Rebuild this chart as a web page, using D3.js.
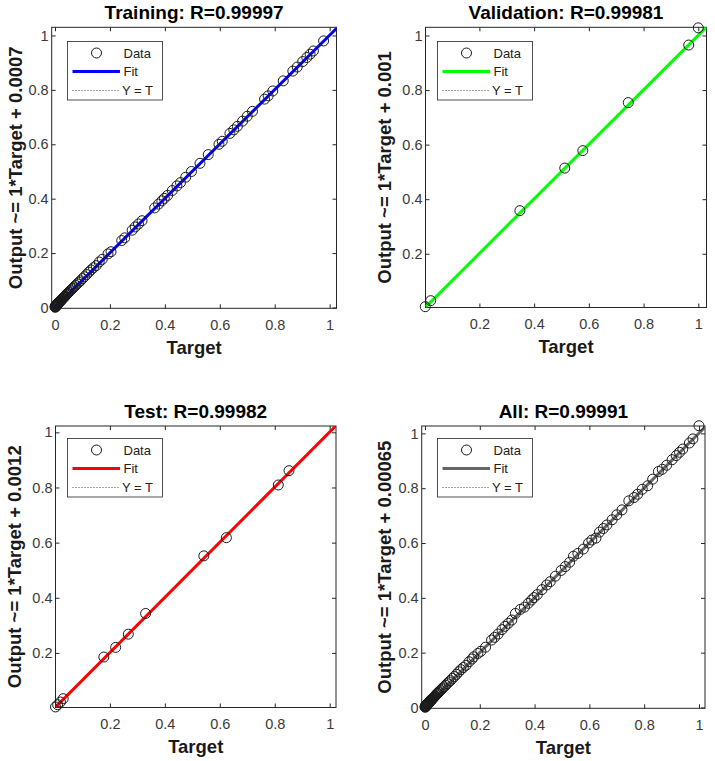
<!DOCTYPE html>
<html><head><meta charset="utf-8">
<script src="https://cdn.jsdelivr.net/npm/d3@7"></script>
<style>
html,body{margin:0;padding:0;background:#fff;}
svg{display:block;font-family:"Liberation Sans",Arial,Helvetica,sans-serif;}
</style></head><body>
<svg id="chart" width="715" height="761"></svg>
<script>
// ---------------- DATA ----------------
const trainTarget = [0.000,0.001,0.001,0.002,0.003,0.003,0.004,0.005,0.006,0.007,0.008,0.009,0.010,0.011,0.012,0.013,0.014,0.015,0.016,0.018,0.019,0.020,0.022,0.023,0.024,0.026,0.027,0.029,0.031,0.033,0.034,0.036,0.037,0.040,0.043,0.045,0.046,0.049,0.052,0.056,0.060,0.065,0.070,0.075,0.081,0.087,0.093,0.100,0.107,0.115,0.123,0.131,0.140,0.150,0.161,0.172,0.193,0.204,0.243,0.254,0.281,0.292,0.304,0.317,0.363,0.377,0.389,0.398,0.410,0.427,0.444,0.457,0.476,0.497,0.528,0.558,0.597,0.609,0.637,0.651,0.664,0.683,0.700,0.719,0.763,0.776,0.793,0.831,0.866,0.882,0.902,0.917,0.929,0.941,0.978];
const trainOutput = [0.002,0.004,0.001,0.005,0.003,0.007,0.007,0.008,0.006,0.010,0.012,0.011,0.014,0.013,0.016,0.018,0.017,0.019,0.020,0.021,0.024,0.024,0.025,0.028,0.029,0.030,0.032,0.034,0.036,0.038,0.039,0.041,0.042,0.046,0.049,0.051,0.052,0.055,0.058,0.062,0.066,0.071,0.076,0.081,0.087,0.093,0.098,0.106,0.113,0.121,0.130,0.138,0.146,0.154,0.167,0.177,0.197,0.205,0.246,0.256,0.284,0.296,0.307,0.319,0.366,0.380,0.392,0.401,0.412,0.430,0.447,0.459,0.479,0.500,0.530,0.562,0.600,0.611,0.640,0.653,0.666,0.685,0.703,0.721,0.766,0.778,0.796,0.833,0.869,0.884,0.904,0.919,0.931,0.943,0.980];
const valTarget = [0.002,0.022,0.348,0.512,0.578,0.744,0.965,1.000];
const valOutput = [0.006,0.028,0.358,0.514,0.578,0.754,0.965,1.028];
const testTarget = [0.002,0.010,0.020,0.030,0.178,0.221,0.267,0.330,0.542,0.624,0.813,0.852];
const testOutput = [0.004,0.012,0.022,0.034,0.185,0.220,0.268,0.343,0.552,0.618,0.809,0.861];

const panelNames = ["Training","Validation","Test","All"];
const rValues = ["0.99997","0.99981","0.99982","0.99991"];
const fitSlopes = [1,1,1,1];
const fitIntercepts = [0.0007,0.001,0.0012,0.00065];
const interceptLabels = ["0.0007","0.001","0.0012","0.00065"];
const tickValues = [0,0.2,0.4,0.6,0.8,1];
const legendLabels = ["Data","Fit","Y = T"];
const fitColors = ["#0000ff","#00ff00","#ff0000","#666666"];

// ---------------- LAYOUT ----------------
const layouts = [
  {left:51.7,right:336.5,top:27.3,bottom:308.3,xdom:[-0.012,1.025],ydom:[-0.003,1.03],legX:67.5,legY:41.5,ylabX:16},
  {left:425.5,right:706.5,top:27.3,bottom:307.5,xdom:[0.003,1.03],ydom:[0.003,1.03],legX:437.5,legY:41.5,ylabX:385},
  {left:55.5,right:336,top:426,bottom:707.5,xdom:[0.002,1.023],ydom:[0.002,1.023],legX:67.5,legY:438.5,ylabX:15},
  {left:421.7,right:705,top:426,bottom:708.3,xdom:[-0.012,1.022],ydom:[-0.003,1.027],legX:437.5,legY:438.5,ylabX:385}
];

const datasets = [
  {t:trainTarget, y:trainOutput},
  {t:valTarget, y:valOutput},
  {t:testTarget, y:testOutput},
  {t:trainTarget.concat(valTarget, testTarget), y:trainOutput.concat(valOutput, testOutput)}
];

const svg = d3.select("#chart");
svg.append("rect").attr("width",715).attr("height",761).attr("fill","#fff");
const defs = svg.append("defs");

const axisColor = "#262626";
const tickTextColor = "#3a3a3a";

layouts.forEach((L, i) => {
  const x = d3.scaleLinear().domain(L.xdom).range([L.left, L.right]);
  const y = d3.scaleLinear().domain(L.ydom).range([L.bottom, L.top]);
  const g = svg.append("g");
  const cx = (L.left + L.right) / 2, cy = (L.top + L.bottom) / 2;

  defs.append("clipPath").attr("id", "clip" + i)
    .append("rect").attr("x", L.left).attr("y", L.top)
    .attr("width", L.right - L.left).attr("height", L.bottom - L.top);

  const xt = tickValues.filter(v => v >= L.xdom[0] && v <= L.xdom[1]);
  const yt = tickValues.filter(v => v >= L.ydom[0] && v <= L.ydom[1]);
  const fmt = d => String(d);

  const ax = [
    g.append("g").attr("transform", `translate(0,${L.bottom})`).call(d3.axisBottom(x).tickValues(xt).tickSize(-4).tickPadding(11.7).tickFormat(fmt)),
    g.append("g").attr("transform", `translate(${L.left},0)`).call(d3.axisLeft(y).tickValues(yt).tickSize(-4).tickPadding(3).tickFormat(fmt)),
    g.append("g").attr("transform", `translate(0,${L.top})`).call(d3.axisTop(x).tickValues(xt).tickSize(-4).tickFormat("")),
    g.append("g").attr("transform", `translate(${L.right},0)`).call(d3.axisRight(y).tickValues(yt).tickSize(-4).tickFormat(""))
  ];
  ax.forEach(a => {
    a.select(".domain").remove();
    a.selectAll(".tick line").attr("stroke", axisColor).attr("stroke-width", 1);
    a.selectAll(".tick text").attr("fill", tickTextColor).style("font-size", "14.5px")
      .style("font-family", '"Liberation Sans",Arial,sans-serif');
  });

  g.append("rect").attr("x", L.left).attr("y", L.top)
    .attr("width", L.right - L.left).attr("height", L.bottom - L.top)
    .attr("fill", "none").attr("stroke", axisColor).attr("stroke-width", 1);

  const plot = g.append("g").attr("clip-path", `url(#clip${i})`);
  const lo = Math.min(L.xdom[0], L.ydom[0]), hi = Math.max(L.xdom[1], L.ydom[1]);
  plot.append("line")
    .attr("x1", x(lo)).attr("y1", y(lo)).attr("x2", x(hi)).attr("y2", y(hi))
    .attr("stroke", "#333").attr("stroke-width", 1).attr("stroke-dasharray", "1,2");
  const m = fitSlopes[i], b = fitIntercepts[i];
  plot.append("line")
    .attr("x1", x(lo)).attr("y1", y(m * lo + b)).attr("x2", x(hi)).attr("y2", y(m * hi + b))
    .attr("stroke", fitColors[i]).attr("stroke-width", 3);

  const D = datasets[i];
  g.append("g").selectAll("circle").data(D.t.map((t, k) => [t, D.y[k]])).join("circle")
    .attr("cx", d => x(d[0])).attr("cy", d => y(d[1])).attr("r", 5)
    .attr("fill", "none").attr("stroke", "#1a1a1a").attr("stroke-width", 1);

  g.append("text").attr("x", cx).attr("y", L.top - 8.5).attr("text-anchor", "middle")
    .style("font-size", "19px").style("font-weight", "bold").attr("fill", "#000")
    .text(`${panelNames[i]}: R=${rValues[i]}`);
  g.append("text").attr("x", cx).attr("y", L.bottom + 45.5).attr("text-anchor", "middle")
    .style("font-size", "18.5px").style("font-weight", "bold").attr("fill", "#1a1a1a")
    .text("Target");
  g.append("text").attr("transform", `translate(${L.ylabX},${cy}) rotate(-90)`)
    .attr("dy", "0.35em").attr("text-anchor", "middle")
    .style("font-size", "18.5px").style("font-weight", "bold").attr("fill", "#1a1a1a")
    .text(`Output ~= ${fitSlopes[i]}*Target + ${interceptLabels[i]}`);

  const lg = g.append("g").attr("transform", `translate(${L.legX},${L.legY})`);
  lg.append("rect").attr("width", 95).attr("height", 58.5)
    .attr("fill", "#fff").attr("stroke", axisColor).attr("stroke-width", 0.8);
  const rows = [11.5, 30, 49];
  lg.append("circle").attr("cx", 29).attr("cy", rows[0]).attr("r", 5)
    .attr("fill", "none").attr("stroke", "#1a1a1a").attr("stroke-width", 1);
  lg.append("line").attr("x1", 5).attr("x2", 52.5).attr("y1", rows[1]).attr("y2", rows[1])
    .attr("stroke", fitColors[i]).attr("stroke-width", 3);
  lg.append("line").attr("x1", 5).attr("x2", 52.5).attr("y1", rows[2]).attr("y2", rows[2])
    .attr("stroke", "#444").attr("stroke-width", 1).attr("stroke-dasharray", "1,2");
  legendLabels.forEach((lab, k) => {
    lg.append("text").attr("x", k === 2 ? 54.5 : 56).attr("y", rows[k]).attr("dy", "0.35em")
      .style("font-size", "13px").attr("fill", "#222").text(lab);
  });
});
</script>
</body></html>
